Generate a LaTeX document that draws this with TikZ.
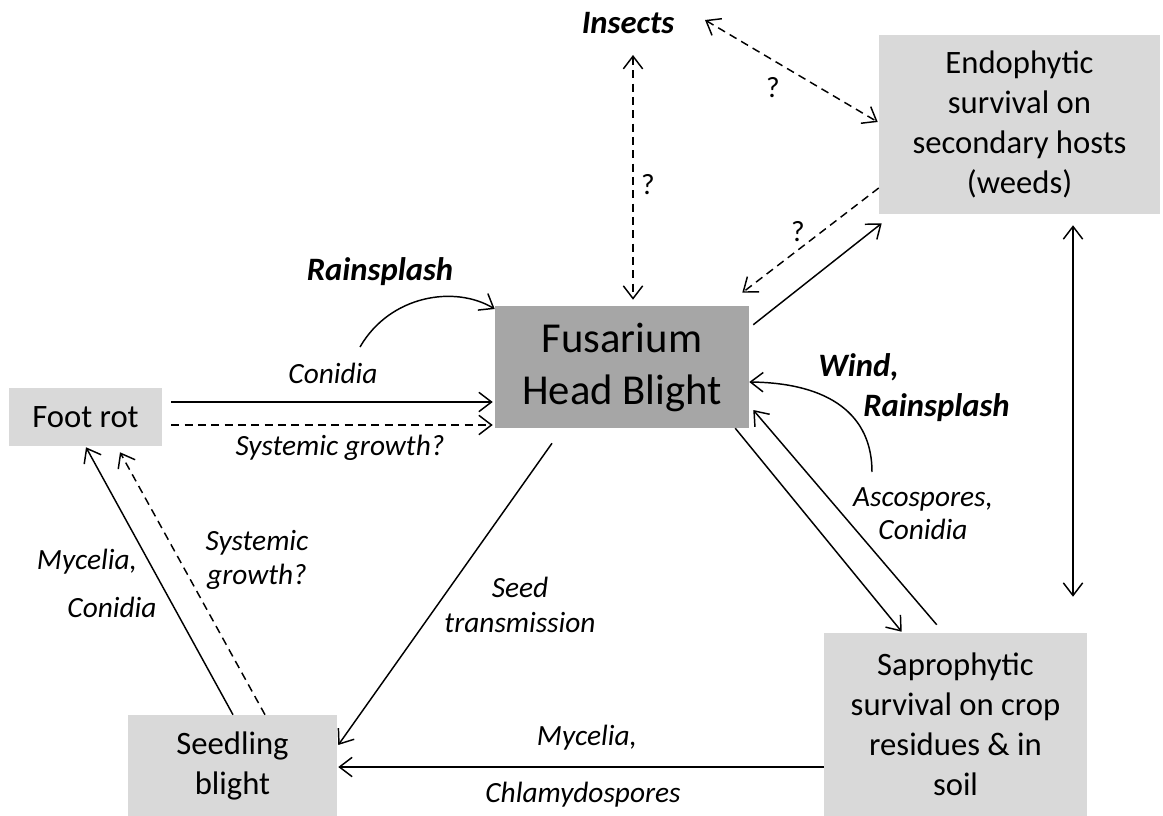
\documentclass[tikz,border=0pt]{standalone}
\usepackage{fontspec}
\setmainfont{Carlito}
\usetikzlibrary{arrows.meta}
\definecolor{lightgrey}{HTML}{D9D9D9}
\definecolor{darkgrey}{HTML}{A6A6A6}

\begin{document}
\begin{tikzpicture}[x=0.75pt,y=-0.75pt,
  box/.style={fill=lightgrey, inner sep=0pt, align=center, font=\fontsize{24.5}{30}\selectfont},
  lbl/.style={align=center, inner sep=0pt, font=\fontsize{22}{25}\selectfont\itshape},
  blbl/.style={align=left, inner sep=0pt, font=\fontsize{24.5}{30}\selectfont\bfseries\itshape},
  qm/.style={inner sep=0pt, font=\fontsize{22}{25}\selectfont},
  arr/.style={-{Straight Barb[length=9.5pt,width=14.5pt]}, line width=1.1pt},
  dbl/.style={{Straight Barb[length=9.5pt,width=14.5pt]}-{Straight Barb[length=9.5pt,width=14.5pt]}, line width=1.1pt},
  dsh/.style={dash pattern=on 6pt off 4pt}]

\useasboundingbox (0,0) rectangle (1163,816);

% boxes
\node[box, fill=darkgrey, minimum width=190.5pt, minimum height=91.5pt,
  font=\fontsize{32}{39}\selectfont] (fhb) at (622,367) {Fusarium\\Head Blight};
\node[box, minimum width=114.75pt, minimum height=43.5pt] (foot) at (85.5,417) {Foot rot};
\node[box, minimum width=210.75pt, minimum height=134.25pt] (endo) at (1019.5,124.5)
  {Endophytic\\survival on\\secondary hosts\\(weeds)};
\node[box, minimum width=197.25pt, minimum height=137.25pt] (sapro) at (955.5,724.5)
  {Saprophytic\\survival on crop\\residues \& in\\soil};
\node[box, minimum width=156.75pt, minimum height=75.75pt] (seed) at (232.5,765.5) {Seedling\\blight};

% labels
\node[blbl] (insects) at (628,23) {Insects};
\node[blbl] (splash) at (380,272) {Rainsplash};
\node[blbl, anchor=west] (wind) at (818,388) {Wind,\\\hspace*{33.75pt}Rainsplash};
\node[lbl] (conid) at (333,373) {Conidia};
\node[lbl] (sysgr) at (340,448) {Systemic growth?};
\node[lbl] (asco) at (923,514) {Ascospores,\\Conidia};
\node[lbl, font=\fontsize{22}{26}\selectfont\itshape] (seedtr) at (520,605) {Seed\\transmission};
\node[lbl] (myc1) at (587,738) {Mycelia,};
\node[lbl] (chlam) at (583,795) {Chlamydospores};
\node[lbl] (myc2) at (87,562) {Mycelia,};
\node[lbl] (conid2) at (112,607) {Conidia};
\node[lbl, font=\fontsize{22}{25.5}\selectfont\itshape] (sysgr2) at (257,560) {Systemic\\growth?};
\node[qm] (q1) at (648,185) {?};
\node[qm] (q2) at (773,88) {?};
\node[qm] (q3) at (798,232) {?};

\coordinate (splashfoot) at (360,347);
\coordinate (windfoot) at (872,472);

% foot rot to head blight
\draw[arr] ([shift={(9,-15)}]foot.east) -- ([shift={(-2,35)}]fhb.west);
\draw[arr, dsh] ([shift={(9,8)}]foot.east) -- ([shift={(-2,58)}]fhb.west);
\draw[arr] (splashfoot) .. controls (390,295) and (455,285) .. ([shift={(0,-58)}]fhb.west);

% insects and weeds
\draw[dbl, dsh] ([shift={(5,32)}]insects.center) -- ([shift={(11,-6)}]fhb.north);
\draw[dbl, dsh] ([shift={(77,-3)}]insects.center) -- ([shift={(-1,-2.5)}]endo.west);
\draw[arr, dsh] ([shift={(0,63.5)}]endo.west) -- ([shift={(-7,-13)}]fhb.north east);
\draw[arr] ([shift={(4,19)}]fhb.north east) -- ([shift={(3,9)}]endo.south west);
\draw[dbl] ([shift={(53.5,11)}]endo.south) -- ([shift={(117.5,-36)}]sapro.north);

% residues
\draw[arr] ([shift={(-14,0)}]fhb.south east) -- ([shift={(78,-1)}]sapro.north west);
\draw[arr] ([shift={(113,-8)}]sapro.north west) -- ([shift={(4,43)}]fhb.east);
\draw[arr] (windfoot) .. controls (872,415) and (830,383) .. ([shift={(0,15)}]fhb.east);
\draw[arr] ([shift={(0,42.5)}]sapro.west) -- ([shift={(1,1.5)}]seed.east);

% seedling blight
\draw[arr] ([shift={(-70,15)}]fhb.south) -- ([shift={(1,-20.5)}]seed.east);
\draw[arr] ([shift={(0.5,0)}]seed.north) -- ([shift={(0.5,1)}]foot.south);
\draw[arr, dsh] ([shift={(32.5,0)}]seed.north) -- ([shift={(34.5,6)}]foot.south);
\end{tikzpicture}
\end{document}
